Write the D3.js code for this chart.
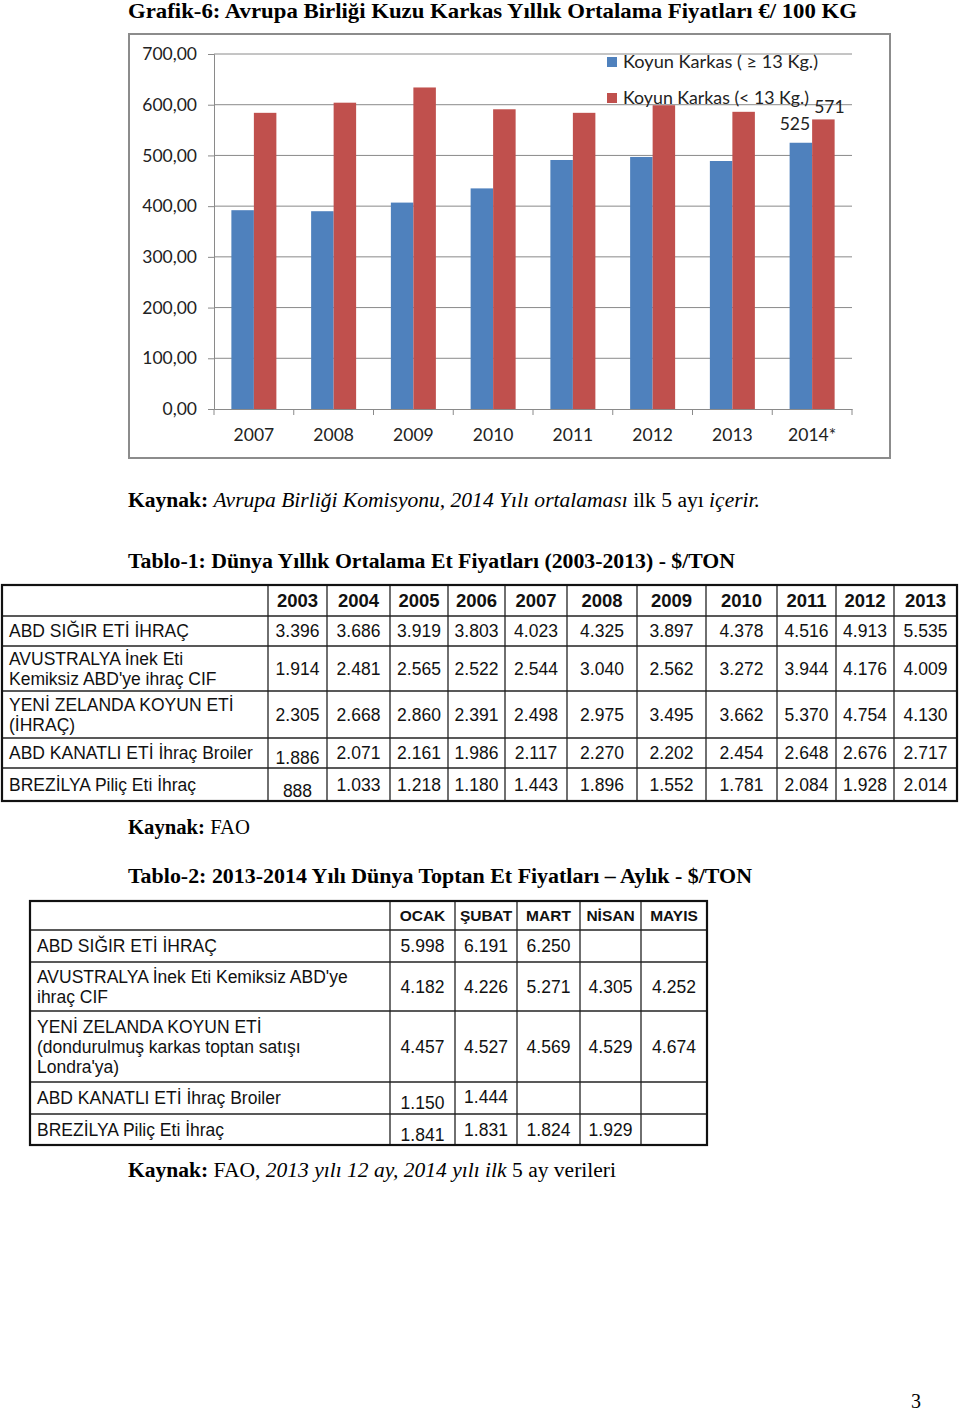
<!DOCTYPE html>
<html>
<head>
<meta charset="utf-8">
<script src="https://d3js.org/d3.v7.min.js"></script>
<style>
  body { margin: 0; background: #fff; }
  svg { display: block; }
  .serif { font-family: "Liberation Serif", "Times New Roman", serif; }
  .sans { font-family: "Liberation Sans", Arial, sans-serif; }
  .chartfont { font-family: "Lato", "Open Sans", sans-serif; }
</style>
</head>
<body>
<svg id="page" width="960" height="1414"></svg>
<script>
// ---- chart data (Grafik-6) ----
const years = ["2007", "2008", "2009", "2010", "2011", "2012", "2013", "2014*"];
const koyunBuyuk = [392, 390, 407, 435, 491, 497, 489, 525];   // Koyun Karkas ( ≥ 13 Kg.)
const koyunKucuk = [584, 604, 634, 591, 584, 599, 586, 571];   // Koyun Karkas (< 13 Kg.)
const seriesNames = ["Koyun Karkas  ( \u2265 13 Kg.)", "Koyun Karkas (< 13 Kg.)"];
const yTicks = [0, 100, 200, 300, 400, 500, 600, 700];

// ---- Tablo-1 ----
const t1Years = ["2003", "2004", "2005", "2006", "2007", "2008", "2009", "2010", "2011", "2012", "2013"];
const t1Labels = [
  ["ABD SIĞIR ETİ İHRAÇ"],
  ["AVUSTRALYA İnek Eti", "Kemiksiz ABD'ye ihraç CIF"],
  ["YENİ ZELANDA KOYUN ETİ", "(İHRAÇ)"],
  ["ABD KANATLI ETİ İhraç Broiler"],
  ["BREZİLYA Piliç Eti İhraç"]
];
const t1Values = [
  ["3.396", "3.686", "3.919", "3.803", "4.023", "4.325", "3.897", "4.378", "4.516", "4.913", "5.535"],
  ["1.914", "2.481", "2.565", "2.522", "2.544", "3.040", "2.562", "3.272", "3.944", "4.176", "4.009"],
  ["2.305", "2.668", "2.860", "2.391", "2.498", "2.975", "3.495", "3.662", "5.370", "4.754", "4.130"],
  ["1.886", "2.071", "2.161", "1.986", "2.117", "2.270", "2.202", "2.454", "2.648", "2.676", "2.717"],
  ["888", "1.033", "1.218", "1.180", "1.443", "1.896", "1.552", "1.781", "2.084", "1.928", "2.014"]
];

// ---- Tablo-2 ----
const t2Months = ["OCAK", "ŞUBAT", "MART", "NİSAN", "MAYIS"];
const t2Labels = [
  ["ABD SIĞIR ETİ İHRAÇ"],
  ["AVUSTRALYA İnek Eti Kemiksiz ABD'ye", "ihraç CIF"],
  ["YENİ ZELANDA KOYUN ETİ", "(dondurulmuş karkas toptan satışı", "Londra'ya)"],
  ["ABD KANATLI ETİ İhraç Broiler"],
  ["BREZİLYA Piliç Eti İhraç"]
];
const t2Values = [
  ["5.998", "6.191", "6.250", "", ""],
  ["4.182", "4.226", "5.271", "4.305", "4.252"],
  ["4.457", "4.527", "4.569", "4.529", "4.674"],
  ["1.150", "1.444", "", "", ""],
  ["1.841", "1.831", "1.824", "1.929", ""]
];

const svg = d3.select("#page");

// ---------- captions ----------
function caption(y, width, parts, size) {
  const t = svg.append("text").attr("class", "serif")
    .attr("x", 128).attr("y", y)
    .attr("font-size", size || 20)
    .attr("textLength", width).attr("lengthAdjust", "spacingAndGlyphs");
  for (const p of parts) {
    t.append("tspan")
      .attr("font-weight", p.b ? "bold" : "normal")
      .attr("font-style", p.i ? "italic" : "normal")
      .text(p.t);
  }
}

caption(18, 729, [{t: "Grafik-6: Avrupa Birliği Kuzu Karkas Yıllık Ortalama Fiyatları €/ 100 KG", b: true}], 21);
caption(507, 632, [{t: "Kaynak: ", b: true}, {t: "Avrupa Birliği Komisyonu, 2014 Yılı ortalaması", i: true},
                   {t: " ilk 5 ayı "}, {t: "içerir.", i: true}]);
caption(568, 607, [{t: "Tablo-1: Dünya Yıllık Ortalama Et Fiyatları (2003-2013) - $/TON", b: true}]);
caption(834, 122, [{t: "Kaynak: ", b: true}, {t: "FAO"}]);
caption(883, 624, [{t: "Tablo-2: 2013-2014 Yılı Dünya Toptan Et Fiyatları \u2013 Aylık - $/TON", b: true}]);
caption(1177, 488, [{t: "Kaynak: ", b: true}, {t: "FAO, "}, {t: "2013 yılı 12 ay, 2014 yılı ilk", i: true}, {t: " 5 ay verileri"}]);

svg.append("text").attr("class", "serif")
  .attr("x", 916).attr("y", 1408).attr("text-anchor", "middle")
  .attr("font-size", 20).text("3");

// ---------- bar chart ----------
svg.append("rect")
  .attr("x", 129).attr("y", 34).attr("width", 761).attr("height", 424)
  .attr("fill", "#fff").attr("stroke", "#8c8c8c").attr("stroke-width", 2);

const plotLeft = 214, plotRight = 852, plotTop = 54, plotBottom = 409;

const x = d3.scaleBand().domain(years).range([plotLeft, plotRight]).paddingInner(0).paddingOuter(0);
const y = d3.scaleLinear().domain([0, 700]).range([plotBottom, plotTop]);
const barW = 22.5;

const chart = svg.append("g").attr("class", "chartfont");

// gridlines
chart.append("g")
  .selectAll("line")
  .data(yTicks.filter(d => d > 0))
  .enter().append("line")
  .attr("x1", plotLeft).attr("x2", plotRight)
  .attr("y1", d => y(d)).attr("y2", d => y(d))
  .attr("stroke", "#8a8a8a").attr("stroke-width", 1);

// y axis
const yAxis = chart.append("g")
  .attr("transform", `translate(${plotLeft},0)`)
  .call(d3.axisLeft(y).tickValues(yTicks).tickSize(6).tickPadding(11)
    .tickFormat(d => d3.format(".2f")(d).replace(".", ",")));
yAxis.select(".domain").attr("stroke", "#8a8a8a");
yAxis.selectAll(".tick line").attr("stroke", "#8a8a8a");
yAxis.selectAll(".tick text").attr("font-size", 17.5).attr("fill", "#222")
  .attr("font-family", "Lato, 'Open Sans', sans-serif");

// bars
const groups = chart.append("g")
  .selectAll("g")
  .data(years)
  .enter().append("g");

groups.append("rect")
  .attr("x", d => x(d) + x.bandwidth() / 2 - barW)
  .attr("y", (d, i) => y(koyunBuyuk[i]))
  .attr("width", barW)
  .attr("height", (d, i) => plotBottom - y(koyunBuyuk[i]))
  .attr("fill", "#4f81bd");

groups.append("rect")
  .attr("x", d => x(d) + x.bandwidth() / 2)
  .attr("y", (d, i) => y(koyunKucuk[i]))
  .attr("width", barW)
  .attr("height", (d, i) => plotBottom - y(koyunKucuk[i]))
  .attr("fill", "#c0504d");

// x axis
const xAxis = chart.append("g")
  .attr("transform", `translate(0,${plotBottom})`)
  .call(d3.axisBottom(x).tickSize(0).tickPadding(20));
xAxis.select(".domain").attr("stroke", "#8a8a8a");
xAxis.selectAll(".tick text").attr("font-size", 17.5).attr("fill", "#222")
  .attr("font-family", "Lato, 'Open Sans', sans-serif");
// category boundary ticks
chart.append("g")
  .selectAll("line")
  .data(years.concat(["end"]))
  .enter().append("line")
  .attr("x1", (d, i) => plotLeft + i * x.bandwidth())
  .attr("x2", (d, i) => plotLeft + i * x.bandwidth())
  .attr("y1", plotBottom).attr("y2", plotBottom + 6)
  .attr("stroke", "#8a8a8a");

// data labels for last year
const last = years.length - 1;
chart.append("text")
  .attr("x", x(years[last]) + x.bandwidth() / 2 - barW / 2 - 6)
  .attr("y", y(koyunBuyuk[last]) - 13)
  .attr("text-anchor", "middle").attr("font-size", 17.5).attr("fill", "#222")
  .text(koyunBuyuk[last]);
chart.append("text")
  .attr("x", x(years[last]) + x.bandwidth() / 2 + barW / 2 + 6)
  .attr("y", y(koyunKucuk[last]) - 6)
  .attr("text-anchor", "middle").attr("font-size", 17.5).attr("fill", "#222")
  .text(koyunKucuk[last]);

// legend
const legend = chart.append("g").attr("transform", "translate(607,57)");
const legendColors = ["#4f81bd", "#c0504d"];
const legendWidths = [195, 186];
seriesNames.forEach((name, i) => {
  legend.append("rect").attr("x", 0).attr("y", i * 36).attr("width", 10).attr("height", 10)
    .attr("fill", legendColors[i]);
  legend.append("text").attr("x", 16).attr("y", i * 36 + 11)
    .attr("font-size", 17.5).attr("fill", "#222")
    .attr("textLength", legendWidths[i]).attr("lengthAdjust", "spacingAndGlyphs")
    .text(name);
});

// ---------- tables ----------
function drawTable(opts) {
  const g = svg.append("g").attr("class", "sans");
  const cols = opts.cols, rows = opts.rows;
  const L = cols[0], R = cols[cols.length - 1], T = rows[0], B = rows[rows.length - 1];

  // inner lines
  cols.slice(1, -1).forEach(cx => {
    g.append("line").attr("x1", cx).attr("x2", cx)
      .attr("y1", T).attr("y2", B)
      .attr("stroke", "#222").attr("stroke-width", 1.3);
  });
  rows.slice(1, -1).forEach(ry => {
    g.append("line").attr("x1", L).attr("x2", R).attr("y1", ry).attr("y2", ry)
      .attr("stroke", "#222").attr("stroke-width", 1.3);
  });
  g.append("rect").attr("x", L).attr("y", T).attr("width", R - L).attr("height", B - T)
    .attr("fill", "none").attr("stroke", "#111").attr("stroke-width", 2.2);

  // header
  opts.header.forEach((h, j) => {
    g.append("text")
      .attr("x", (cols[j + 1] + cols[j + 2]) / 2)
      .attr("y", (rows[0] + rows[1]) / 2 + opts.headSize * 0.36)
      .attr("text-anchor", "middle").attr("font-weight", "bold")
      .attr("font-size", opts.headSize).attr("fill", "#111").text(h);
  });

  // row labels and values
  opts.labels.forEach((lines, r) => {
    const top = rows[r + 1], bot = rows[r + 2], mid = (top + bot) / 2;
    const lh = 20;
    const y0 = mid - (lines.length - 1) * lh / 2 + opts.size * 0.36;
    lines.forEach((ln, k) => {
      g.append("text").attr("x", L + opts.labelPad).attr("y", y0 + k * lh)
        .attr("font-size", opts.size).attr("fill", "#111").text(ln);
    });
    opts.values[r].forEach((v, c) => {
      const shift = (opts.shifts[`${r},${c}`] || 0);
      g.append("text")
        .attr("x", (cols[c + 1] + cols[c + 2]) / 2)
        .attr("y", mid + opts.size * 0.36 + shift)
        .attr("text-anchor", "middle")
        .attr("font-size", opts.size).attr("fill", "#111").text(v);
    });
  });
}

drawTable({
  cols: [2, 268, 327, 390, 448, 505, 567, 637, 706, 777, 836, 894, 957],
  rows: [585, 616, 646, 691, 738, 768, 801],
  header: t1Years, labels: t1Labels, values: t1Values,
  headSize: 18.5, size: 17.5, labelPad: 7,
  shifts: {"3,0": 5, "4,0": 6}
});

drawTable({
  cols: [30, 390, 455, 517, 580, 641, 707],
  rows: [901, 930, 962, 1011, 1082, 1114, 1145],
  header: t2Months, labels: t2Labels, values: t2Values,
  headSize: 15.5, size: 17.5, labelPad: 7,
  shifts: {"3,0": 5, "3,1": -1, "4,0": 5}
});
</script>
</body>
</html>
